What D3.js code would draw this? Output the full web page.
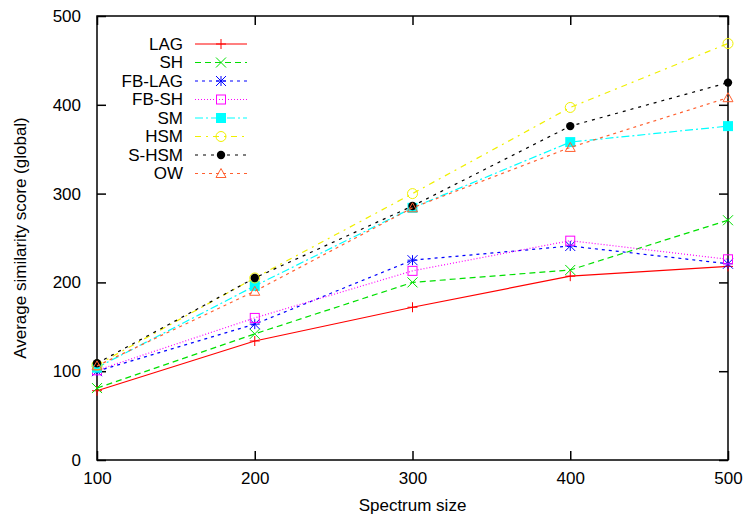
<!DOCTYPE html>
<html>
<head>
<meta charset="utf-8">
<script src="https://cdn.jsdelivr.net/npm/d3@7"></script>
<style>
  body { margin: 0; background: #fff; }
  text { font-family: "Liberation Sans", Arial, sans-serif; font-size: 17px; fill: #000; }
</style>
</head>
<body>
<svg id="chart" width="747" height="522"></svg>
<script>
// spectrum sizes on the x axis
const sizes = [100, 200, 300, 400, 500];
const xTicks = [100, 200, 300, 400, 500];
const yTicks = [0, 100, 200, 300, 400, 500];

// series values
const LAG = [78, 134, 172, 207, 218];
const SH = [81, 142, 200, 214, 270];
const FB_LAG = [100, 153, 225, 241, 221];
const FB_SH = [101, 160, 213, 247, 226];
const SM = [104, 196, 284, 358, 376];
const HSM = [107, 205, 300, 397, 469];
const S_HSM = [109, 205, 286, 376, 425];
const OW = [106, 190, 284, 352, 408];

const series = [
  { name: "LAG", values: LAG, color: "#ff0000", dash: null, mark: "plus" },
  { name: "SH", values: SH, color: "#00e000", dash: "6,4", mark: "cross" },
  { name: "FB-LAG", values: FB_LAG, color: "#0000ff", dash: "3,4", mark: "star" },
  { name: "FB-SH", values: FB_SH, color: "#ff00ff", dash: "1,2", mark: "square" },
  { name: "SM", values: SM, color: "#00ffff", dash: "8,3,2,3", mark: "fsquare" },
  { name: "HSM", values: HSM, color: "#f0f000", dash: "6,5,2,5", mark: "circle" },
  { name: "S-HSM", values: S_HSM, color: "#000000", dash: "3,5", mark: "fcircle" },
  { name: "OW", values: OW, color: "#ff6030", dash: "3,4", mark: "triangle" }
];

const margin = { top: 16, right: 19, bottom: 62, left: 97 };
const svg = d3.select("#chart");
const width = 747 - margin.left - margin.right;
const height = 522 - margin.top - margin.bottom;
const g = svg.append("g").attr("transform", `translate(${margin.left},${margin.top})`);

const x = d3.scaleLinear().domain([100, 500]).range([0, width]);
const y = d3.scaleLinear().domain([0, 500]).range([height, 0]);

// axes with inward ticks, mirrored on top and right like gnuplot
g.append("g").attr("transform", `translate(0,${height})`)
  .call(d3.axisBottom(x).tickValues(xTicks).tickSize(-9).tickPadding(12).tickFormat(d3.format("d")));
g.append("g").call(d3.axisLeft(y).tickValues(yTicks).tickSize(-9).tickPadding(16).tickFormat(d3.format("d")));
g.append("g").call(d3.axisTop(x).tickValues(xTicks).tickSize(-9).tickFormat(""));
g.append("g").attr("transform", `translate(${width},0)`)
  .call(d3.axisRight(y).tickValues(yTicks).tickSize(-9).tickFormat(""));
g.selectAll(".domain").remove();
g.selectAll(".tick line").attr("stroke", "#000").attr("stroke-width", 1.5);
g.selectAll(".tick text").style("font-size", "17px");

g.append("rect").attr("width", width).attr("height", height)
  .attr("fill", "none").attr("stroke", "#000").attr("stroke-width", 1.5);

svg.append("text").attr("x", margin.left + width / 2).attr("y", 511)
  .attr("text-anchor", "middle").text("Spectrum size");
svg.append("text")
  .attr("transform", `translate(26,${margin.top + height / 2}) rotate(-90)`)
  .attr("text-anchor", "middle").text("Average similarity score (global)");

// point markers
function drawMark(sel, mark, color) {
  const s = 5;
  if (mark === "plus") {
    sel.append("path").attr("d", `M${-s},0H${s}M0,${-s}V${s}`).attr("stroke", color).attr("fill", "none");
  } else if (mark === "cross") {
    sel.append("path").attr("d", `M${-s},${-s}L${s},${s}M${-s},${s}L${s},${-s}`).attr("stroke", color).attr("fill", "none");
  } else if (mark === "star") {
    sel.append("path").attr("d", `M${-s},0H${s}M0,${-s}V${s}M${-s},${-s}L${s},${s}M${-s},${s}L${s},${-s}`)
      .attr("stroke", color).attr("fill", "none");
  } else if (mark === "square") {
    sel.append("rect").attr("x", -s + 0.5).attr("y", -s + 0.5).attr("width", 2 * s - 1).attr("height", 2 * s - 1)
      .attr("stroke", color).attr("fill", "none");
  } else if (mark === "fsquare") {
    sel.append("rect").attr("x", -s).attr("y", -s).attr("width", 2 * s).attr("height", 2 * s).attr("fill", color);
  } else if (mark === "circle") {
    sel.append("circle").attr("r", s).attr("stroke", color).attr("fill", "none");
  } else if (mark === "fcircle") {
    sel.append("circle").attr("r", 4.2).attr("fill", color);
  } else if (mark === "triangle") {
    sel.append("path").attr("d", `M0,${-s}L${s},${s - 1}L${-s},${s - 1}Z`).attr("stroke", color).attr("fill", "none");
  }
}

const line = d3.line().x((d, i) => x(sizes[i])).y((d) => y(d));

series.forEach((sr) => {
  g.append("path").datum(sr.values)
    .attr("d", line).attr("fill", "none").attr("stroke", sr.color)
    .attr("stroke-width", 1.2).attr("stroke-dasharray", sr.dash);
  sr.values.forEach((v, i) => {
    const m = g.append("g").attr("transform", `translate(${x(sizes[i])},${y(v)})`);
    drawMark(m, sr.mark, sr.color);
  });
});

// legend
const legend = svg.append("g");
series.forEach((sr, i) => {
  const ly = 44 + i * 18.5;
  legend.append("text").attr("x", 183).attr("y", ly).attr("dy", "0.35em")
    .attr("text-anchor", "end").text(sr.name);
  legend.append("line").attr("x1", 195).attr("x2", 247).attr("y1", ly).attr("y2", ly)
    .attr("stroke", sr.color).attr("stroke-width", 1.2).attr("stroke-dasharray", sr.dash);
  const m = legend.append("g").attr("transform", `translate(221,${ly})`);
  drawMark(m, sr.mark, sr.color);
});
</script>
</body>
</html>
